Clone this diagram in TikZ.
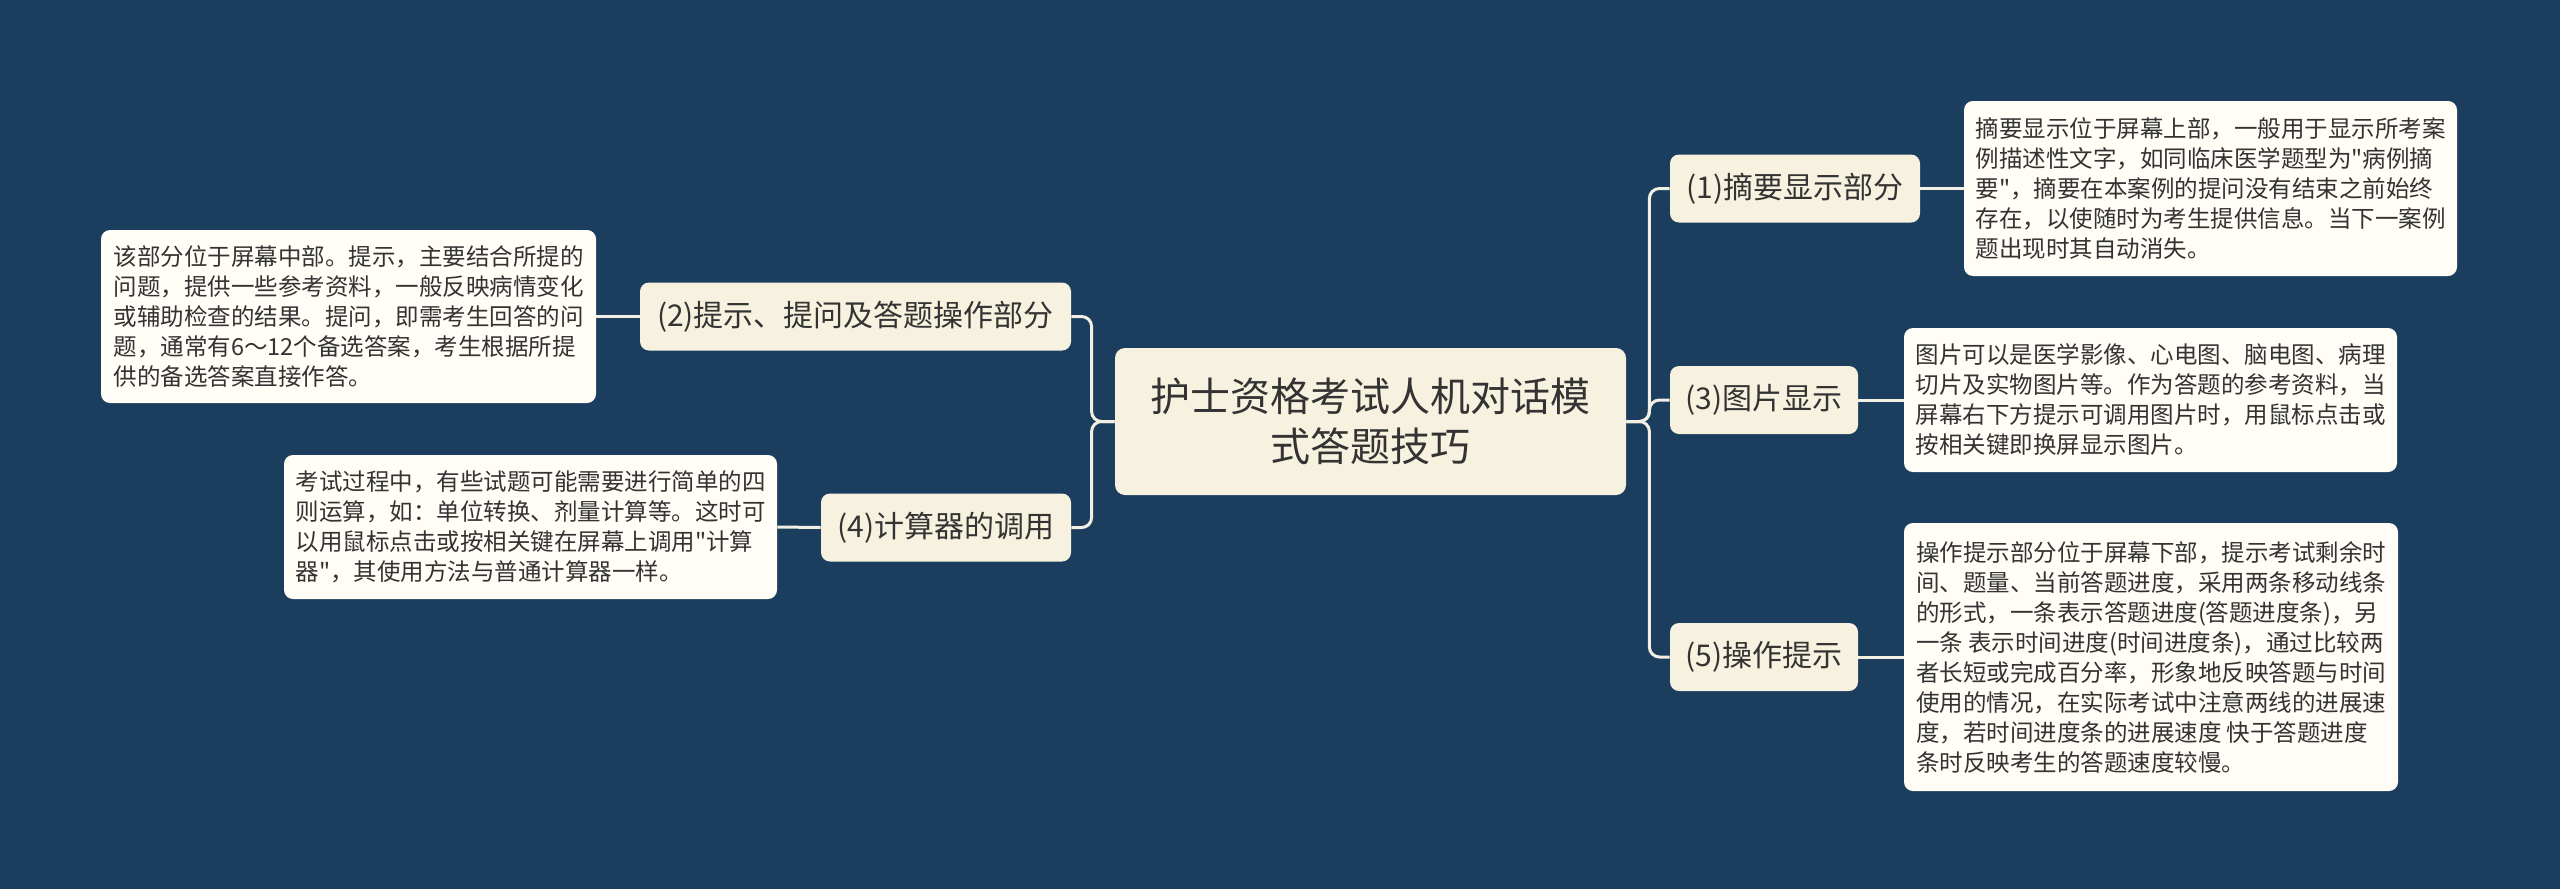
\documentclass[tikz,border=0pt]{standalone}
\usepackage{fontspec}
\setmainfont{Noto Sans CJK SC}[Ligatures=TeXOff]
\definecolor{bg}{HTML}{1B3D5E}
\definecolor{mainfill}{HTML}{F7F2DF}
\definecolor{leaffill}{HTML}{FFFDF6}
\definecolor{linec}{HTML}{F2EFE3}
\definecolor{txt}{HTML}{333333}
\begin{document}
\begin{tikzpicture}[x=0.5pt,y=-0.5pt,
  central/.style={fill=mainfill, rounded corners=5pt, minimum width=255.5pt, minimum height=73.5pt,
    font=\fontsize{20pt}{25pt}\selectfont, align=center, text=txt, inner sep=0pt},
  branch/.style={fill=mainfill, rounded corners=4.5pt, minimum height=34pt,
    font=\fontsize{15pt}{18pt}\selectfont, inner sep=0pt, text=txt},
  leaf/.style={fill=leaffill, rounded corners=4.5pt, font=\fontsize{11.75pt}{15pt}\selectfont,
    align=left, inner sep=0pt, text=txt},
  conn/.style={draw=linec, line width=1.5pt, rounded corners=5pt}]
\fill[bg] (0,0) rectangle (2560,889);
\useasboundingbox (0,0) rectangle (2560,889);

\node[central] (c) at (1370.5,421.5) {护士资格考试人机对话模\\式答题技巧};

\node[branch, minimum width=125pt] (b1) at (1795,188.5) {(1)摘要显示部分};
\node[branch, minimum width=94pt] (b3) at (1764,400) {(3)图片显示};
\node[branch, minimum width=94pt] (b5) at (1764,657) {(5)操作提示};
\node[branch, minimum width=215.5pt] (b2) at (855.5,316.5) {(2)提示、提问及答题操作部分};
\node[branch, minimum width=125pt] (b4) at (946,527.5) {(4)计算器的调用};

\node[leaf, minimum width=246.5pt, minimum height=87.5pt] (l1) at (2210.5,188.5) {摘要显示位于屏幕上部，一般用于显示所考案\\例描述性文字，如同临床医学题型为"病例摘\\要"，摘要在本案例的提问没有结束之前始终\\存在，以使随时为考生提供信息。当下一案例\\题出现时其自动消失。};
\node[leaf, minimum width=246.5pt, minimum height=72pt] (l3) at (2150.5,400) {图片可以是医学影像、心电图、脑电图、病理\\切片及实物图片等。作为答题的参考资料，当\\屏幕右下方提示可调用图片时，用鼠标点击或\\按相关键即换屏显示图片。};
\node[leaf, minimum width=247pt, minimum height=134pt] (l5) at (2151,657) {操作提示部分位于屏幕下部，提示考试剩余时\\间、题量、当前答题进度，采用两条移动线条\\的形式，一条表示答题进度(答题进度条)，另\\一条 表示时间进度(时间进度条)，通过比较两\\者长短或完成百分率，形象地反映答题与时间\\使用的情况，在实际考试中注意两线的进展速\\度，若时间进度条的进展速度 快于答题进度\\条时反映考生的答题速度较慢。};
\node[leaf, minimum width=247.5pt, minimum height=86.5pt] (l2) at (348.5,316.5) {该部分位于屏幕中部。提示，主要结合所提的\\问题，提供一些参考资料，一般反映病情变化\\或辅助检查的结果。提问，即需考生回答的问\\题，通常有6～12个备选答案，考生根据所提\\供的备选答案直接作答。};
\node[leaf, minimum width=246.5pt, minimum height=72pt] (l4) at (530.5,527) {考试过程中，有些试题可能需要进行简单的四\\则运算，如：单位转换、剂量计算等。这时可\\以用鼠标点击或按相关键在屏幕上调用"计算\\器"，其使用方法与普通计算器一样。};

\draw[conn] (c.east) -- ++(23,0) |- (b1.west);
\draw[conn] (c.east) -- ++(23,0) |- (b3.west);
\draw[conn] (c.east) -- ++(23,0) |- (b5.west);
\draw[conn] (c.west) -- ++(-23,0) |- (b2.east);
\draw[conn] (c.west) -- ++(-23,0) |- (b4.east);
\draw[conn] (b1.east) -- (l1.west);
\draw[conn] (b3.east) -- (l3.west);
\draw[conn] (b5.east) -- (l5.west);
\draw[conn] (b2.west) -- (l2.east);
\draw[conn] (b4.west) -- (l4.east);
\end{tikzpicture}
\end{document}
